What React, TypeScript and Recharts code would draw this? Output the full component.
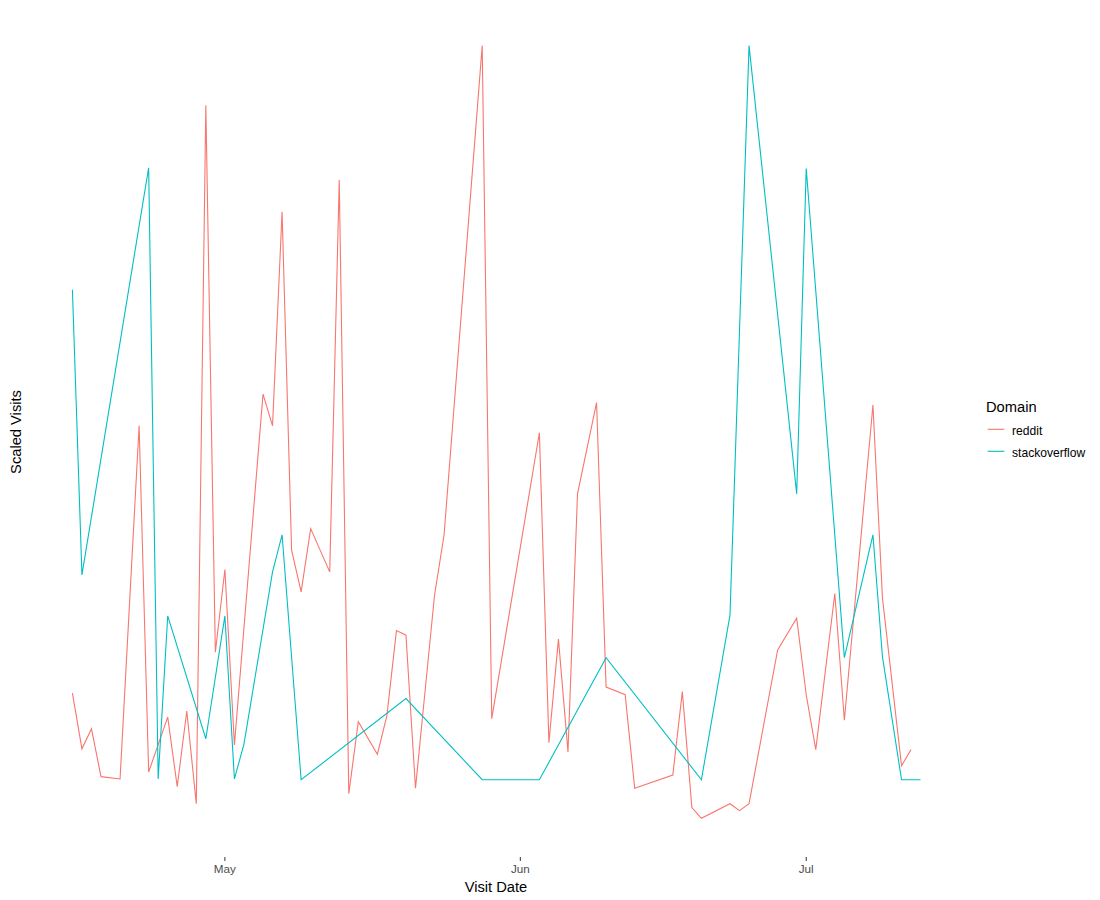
import {Legend, Line, LineChart, XAxis, YAxis} from 'recharts';

const redditDates = [
    '2019-04-15', '2019-04-16', '2019-04-17', '2019-04-18', '2019-04-20', '2019-04-22', '2019-04-23',
    '2019-04-25', '2019-04-26', '2019-04-27', '2019-04-28', '2019-04-29', '2019-04-30', '2019-05-01',
    '2019-05-02', '2019-05-05', '2019-05-06', '2019-05-07', '2019-05-08', '2019-05-09', '2019-05-10',
    '2019-05-12', '2019-05-13', '2019-05-14', '2019-05-15', '2019-05-17', '2019-05-18', '2019-05-19',
    '2019-05-20', '2019-05-21', '2019-05-23', '2019-05-24', '2019-05-28', '2019-05-29', '2019-06-03',
    '2019-06-04', '2019-06-05', '2019-06-06', '2019-06-07', '2019-06-09', '2019-06-10', '2019-06-12',
    '2019-06-13', '2019-06-17', '2019-06-18', '2019-06-19', '2019-06-20', '2019-06-23', '2019-06-24',
    '2019-06-25', '2019-06-28', '2019-06-30', '2019-07-01', '2019-07-02', '2019-07-04', '2019-07-05',
    '2019-07-08', '2019-07-09', '2019-07-11', '2019-07-12',
];
const redditVisits = [
    0.162, 0.090, 0.116, 0.054, 0.051, 0.508, 0.060,
    0.131, 0.041, 0.139, 0.019, 0.923, 0.215, 0.322,
    0.095, 0.549, 0.508, 0.785, 0.347, 0.293, 0.375,
    0.319, 0.826, 0.032, 0.125, 0.083, 0.133, 0.243,
    0.237, 0.039, 0.289, 0.367, 1.000, 0.129, 0.499,
    0.098, 0.232, 0.086, 0.420, 0.538, 0.170, 0.160,
    0.039, 0.056, 0.164, 0.014, 0.000, 0.019, 0.010,
    0.019, 0.218, 0.259, 0.160, 0.089, 0.291, 0.127,
    0.535, 0.285, 0.068, 0.089,
];

const soDates = [
    '2019-04-15', '2019-04-16', '2019-04-23', '2019-04-24', '2019-04-25', '2019-04-29', '2019-05-01',
    '2019-05-02', '2019-05-03', '2019-05-06', '2019-05-07', '2019-05-09', '2019-05-20', '2019-05-28',
    '2019-06-03', '2019-06-10', '2019-06-20', '2019-06-23', '2019-06-25', '2019-06-30', '2019-07-01',
    '2019-07-05', '2019-07-08', '2019-07-09', '2019-07-11', '2019-07-13',
];
const soVisits = [
    0.684, 0.315, 0.842, 0.051, 0.262, 0.103, 0.262,
    0.051, 0.096, 0.319, 0.367, 0.050, 0.155, 0.050,
    0.050, 0.208, 0.050, 0.263, 1.000, 0.420, 0.841,
    0.208, 0.367, 0.209, 0.050, 0.050,
];

const tickDates = ['2019-05-01', '2019-06-01', '2019-07-01'];
const monthNames = ['Jan', 'Feb', 'Mar', 'Apr', 'May', 'Jun', 'Jul', 'Aug', 'Sep', 'Oct', 'Nov', 'Dec'];

const RED = '#F8766D';
const TEAL = '#00BFC4';
const FONT = '"Liberation Sans", Arial, sans-serif';

const toTime = (s: string) => Date.parse(s + 'T00:00:00Z');

const redditData = redditDates.map((d, i) => ({date: toTime(d), visits: redditVisits[i]}));
const soData = soDates.map((d, i) => ({date: toTime(d), visits: soVisits[i]}));

// ggplot-style 5% expansion on both axes
const allTimes = [...redditData, ...soData].map((p) => p.date);
const tMin = Math.min(...allTimes);
const tMax = Math.max(...allTimes);
const tPad = (tMax - tMin) * 0.05;
const allVals = [...redditVisits, ...soVisits];
const vMin = Math.min(...allVals);
const vMax = Math.max(...allVals);
const vPad = (vMax - vMin) * 0.05;

const series = [
    {name: 'reddit', color: RED},
    {name: 'stackoverflow', color: TEAL},
];

function DomainLegend() {
    return (
        <div style={{position: 'relative', width: 130, height: 70, fontFamily: FONT}}>
            <div style={{position: 'absolute', left: 1, top: 5, fontSize: 14.7, lineHeight: '15px', color: '#000'}}>
                Domain
            </div>
            {series.map((s, i) => (
                <div key={s.name}>
                    <svg style={{position: 'absolute', left: 0, top: 25 + i * 22.4}} width={24} height={18}>
                        <line x1={2.7} x2={19.3} y1={9.3} y2={9.3} stroke={s.color} strokeWidth={1.1}/>
                    </svg>
                    <div style={{position: 'absolute', left: 27, top: 29 + i * 22.4, fontSize: 12.1, lineHeight: '14px', color: '#000', whiteSpace: 'nowrap'}}>
                        {s.name}
                    </div>
                </div>
            ))}
        </div>
    );
}

export default function App() {
    return (
        <div style={{position: 'absolute', left: 0, top: 0, background: '#fff'}}>
            <LineChart width={1100} height={900} margin={{top: 7, right: 137, left: 0, bottom: 0}}>
                <XAxis
                    dataKey="date"
                    type="number"
                    domain={[tMin - tPad, tMax + tPad]}
                    ticks={tickDates.map(toTime)}
                    interval={0}
                    tickFormatter={(t: number) => monthNames[new Date(t).getUTCMonth()]}
                    height={43}
                    axisLine={false}
                    tickSize={4}
                    tickMargin={4}
                    tickLine={{stroke: '#333333'}}
                    tick={{fill: '#4D4D4D', fontSize: 11.7, fontFamily: FONT}}
                    label={() => (
                        <text x={496} y={887} textAnchor="middle" dominantBaseline="central"
                              fontSize={14.7} fontFamily={FONT} fill="#000">Visit Date</text>
                    )}
                />
                <YAxis
                    type="number"
                    domain={[vMin - vPad, vMax + vPad]}
                    width={30}
                    tick={false}
                    tickLine={false}
                    axisLine={false}
                    label={() => (
                        <text x={16} y={432} transform="rotate(-90 16 432)" textAnchor="middle"
                              dominantBaseline="central" fontSize={14.7} fontFamily={FONT} fill="#000">Scaled Visits</text>
                    )}
                />
                <Legend
                    layout="vertical"
                    align="center"
                    verticalAlign="middle"
                    wrapperStyle={{left: 985, top: 395, width: 130, height: 70}}
                    content={() => <DomainLegend/>}
                />
                <Line data={redditData} dataKey="visits" name="reddit" stroke={RED} strokeWidth={1.1}
                      dot={false} activeDot={false} isAnimationActive={false}/>
                <Line data={soData} dataKey="visits" name="stackoverflow" stroke={TEAL} strokeWidth={1.1}
                      dot={false} activeDot={false} isAnimationActive={false}/>
            </LineChart>
        </div>
    );
}
